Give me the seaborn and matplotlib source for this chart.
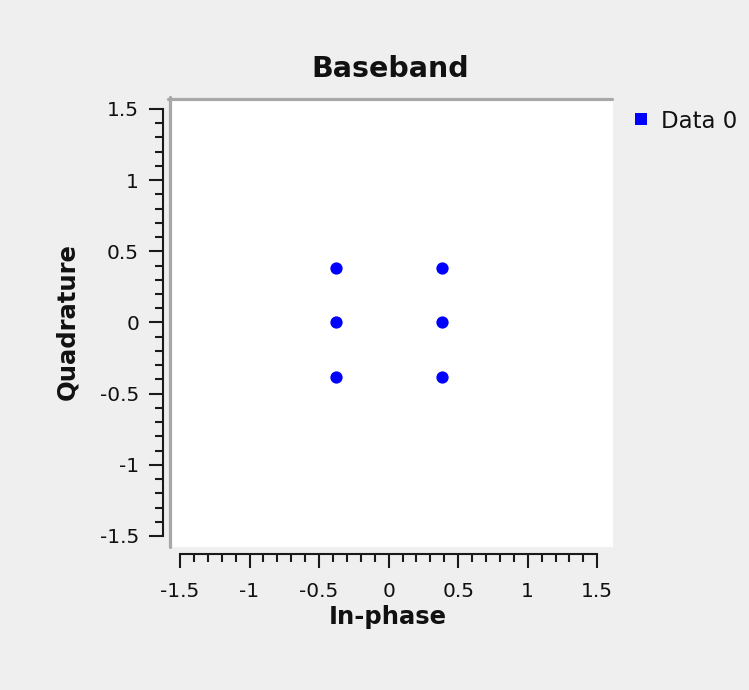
import matplotlib
matplotlib.use("Agg")
import matplotlib.pyplot as plt
from matplotlib.lines import Line2D
from matplotlib.ticker import FixedLocator
import seaborn as sns
import pandas as pd
import numpy as np

# ---- data ----
in_phase = [-0.38, -0.38, -0.38, 0.38, 0.38, 0.38]
quadrature = [0.38, 0.0, -0.38, 0.38, 0.0, -0.38]
series_name = "Data 0"
major_ticks = [-1.5, -1, -0.5, 0, 0.5, 1, 1.5]
tick_labels = ["-1.5", "-1", "-0.5", "0", "0.5", "1", "1.5"]

sns.set_style("white")
plt.rcParams["font.family"] = ["DejaVu Sans"]
plt.rcParams["axes.unicode_minus"] = False

W, H = 749, 690
fig = plt.figure(figsize=(W / 100, H / 100), dpi=100, facecolor="#efefef")

# canvas in pixel coords
L, R, T, B = 171, 613, 100, 547
ax = fig.add_axes([L / W, (H - B) / H, (R - L) / W, (B - T) / H])
ax.set_facecolor("white")

df = pd.DataFrame({"I": in_phase, "Q": quadrature})
sns.scatterplot(data=df, x="I", y="Q", ax=ax, color="#0000ff", marker="o",
                s=78, linewidth=0, legend=False)

ax.set_xlim(-1.5647, 1.6129)
ax.set_ylim(-1.5773, 1.5632)

for s in ["top", "right"]:
    ax.spines[s].set_visible(False)
for s in ["left", "bottom"]:
    ax.spines[s].set_visible(True)
    ax.spines[s].set_color("#1a1a1a")
    ax.spines[s].set_linewidth(1.5)
    ax.spines[s].set_bounds(-1.5, 1.5)
ax.spines["left"].set_position(("outward", 5.5))
ax.spines["bottom"].set_position(("outward", 5.0))

ax.set_xticks(major_ticks)
ax.set_xticklabels(tick_labels)
ax.set_yticks(major_ticks)
ax.set_yticklabels(tick_labels)
minor = [round(v, 2) for v in np.arange(-1.5, 1.5001, 0.1)]
minor = [v for v in minor if all(abs(v - m) > 1e-6 for m in major_ticks)]
ax.xaxis.set_minor_locator(FixedLocator(minor))
ax.yaxis.set_minor_locator(FixedLocator(minor))
ax.tick_params(axis="both", which="major", direction="out", length=10, width=1.5,
               color="#1a1a1a", labelsize=14.5, labelcolor="#111111",
               left=True, bottom=True)
ax.tick_params(axis="y", which="major", pad=7.5)
ax.tick_params(axis="x", which="major", pad=10)
ax.tick_params(axis="both", which="minor", direction="out", length=5.8, width=1.5,
               color="#1a1a1a", left=True, bottom=True)

ax.set_xlabel("In-phase", fontsize=17.5, fontweight="bold", color="#111111")
ax.set_ylabel("Quadrature", fontsize=17.5, fontweight="bold", color="#111111")
ax.xaxis.label.set_va("center")
ax.yaxis.label.set_va("center")
ax.xaxis.set_label_coords((388 - L) / (R - L), (B - 617) / (B - T))
ax.yaxis.set_label_coords((67 - L) / (R - L), (B - 322) / (B - T))

fig.text(390 / W, 1 - 69 / H, "Baseband", ha="center", va="center",
         fontsize=20.5, fontweight="bold", color="#111111")

# gray canvas frame (top and left)
fig.add_artist(Line2D([169.5 / W, 169.5 / W], [(H - 547) / H, (H - 97) / H],
                      color="#a8a8a8", linewidth=2.3, transform=fig.transFigure))
fig.add_artist(Line2D([168 / W, 612 / W], [(H - 98.5) / H, (H - 98.5) / H],
                      color="#a8a8a8", linewidth=2.3, transform=fig.transFigure))

handle = Line2D([], [], linestyle="none", marker="s", markersize=8.5,
                markerfacecolor="#0000ff", markeredgewidth=0)
fig.legend([handle], [series_name], loc="center left",
           bbox_to_anchor=(630 / W, 1 - 121 / H), frameon=False,
           fontsize=16.5, handlelength=1.0, handletextpad=0.35,
           borderpad=0, borderaxespad=0, labelcolor="#111111")

fig.savefig("out.png", dpi=100, facecolor=fig.get_facecolor())
